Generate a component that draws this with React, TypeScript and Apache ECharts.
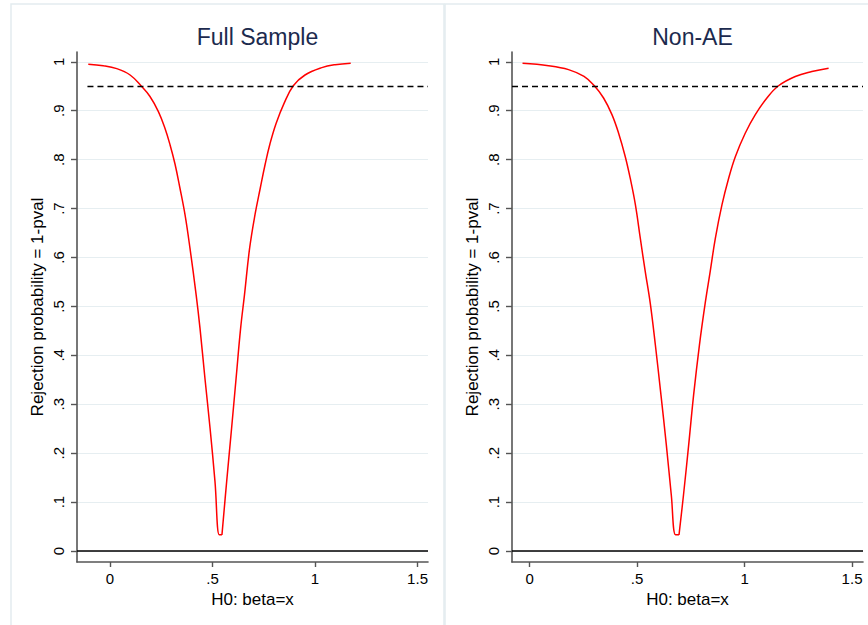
import React, { useEffect, useRef } from 'react';
import * as echarts from 'echarts';

// Full sample: H0 beta value vs rejection probability
const fullX = [
  -0.106, -0.033, 0.033, 0.098, 0.151, 0.195, 0.236, 0.268, 0.293, 0.317,
  0.341, 0.366, 0.390, 0.420, 0.439, 0.463, 0.488, 0.512, 0.533, 0.546,
  0.569, 0.593, 0.615, 0.637, 0.656, 0.681, 0.707, 0.733, 0.757, 0.780,
  0.810, 0.850, 0.894, 0.951, 1.033, 1.098, 1.174,
];
const fullY = [
  0.995, 0.992, 0.986, 0.973, 0.951, 0.929, 0.898, 0.864, 0.830, 0.791,
  0.742, 0.687, 0.619, 0.524, 0.455, 0.353, 0.251, 0.142, 0.033, 0.033,
  0.142, 0.251, 0.353, 0.455, 0.524, 0.619, 0.687, 0.742, 0.791, 0.832,
  0.874, 0.916, 0.951, 0.973, 0.988, 0.994, 0.997,
];

// Non-AE subsample
const nonAeX = [
  -0.033, 0.088, 0.181, 0.253, 0.301, 0.344, 0.383, 0.414, 0.445, 0.468,
  0.492, 0.515, 0.538, 0.561, 0.585, 0.611, 0.636, 0.659, 0.679, 0.695,
  0.716, 0.740, 0.763, 0.790, 0.817, 0.840, 0.864, 0.895, 0.926, 0.957,
  1.003, 1.050, 1.104, 1.158, 1.236, 1.313, 1.391,
];
const nonAeY = [
  0.997, 0.992, 0.984, 0.970, 0.951, 0.926, 0.892, 0.854, 0.806, 0.762,
  0.708, 0.639, 0.571, 0.507, 0.421, 0.319, 0.217, 0.115, 0.033, 0.033,
  0.115, 0.217, 0.319, 0.421, 0.507, 0.571, 0.639, 0.708, 0.762, 0.806,
  0.854, 0.892, 0.926, 0.951, 0.970, 0.980, 0.987,
];

const panelTitles = ['Full Sample', 'Non-AE'];
const xTicks = [0, 0.5, 1, 1.5];
const yTicks = [0, 0.1, 0.2, 0.3, 0.4, 0.5, 0.6, 0.7, 0.8, 0.9, 1];
const cutoff = 0.95;
const xRanges = [[-0.161, 1.551], [-0.082, 1.551]];
const yRange = [-0.0225, 1.02];
const cutoffStart = [-0.11, -0.082];

const FONT = '"Liberation Sans", Arial, sans-serif';
const AXIS_GREY = '#555555';

// stata style: .5 instead of 0.5
const fmt = (v: number) => String(Math.round(v * 10) / 10).replace(/^0\./, '.');

const App = () => {
  const chartRef = useRef<HTMLDivElement>(null);

  useEffect(() => {
    const chart = echarts.init(chartRef.current, null, { renderer: 'svg' });

    const pair = (xs: number[], ys: number[]) => xs.map((x, i) => [x, ys[i]]);
    const grids = [
      { left: 77, top: 52, width: 351, height: 510 },
      { left: 512, top: 52, width: 351, height: 510 },
    ];

    const xAxis = [0, 1].map((i) => ({
      type: 'value',
      gridIndex: i,
      min: xRanges[i][0],
      max: xRanges[i][1],
      name: 'H0: beta=x',
      nameLocation: 'middle',
      nameGap: 27,
      nameTextStyle: { fontSize: 17, color: '#000', fontFamily: FONT },
      axisLine: { show: true, onZero: false, lineStyle: { color: AXIS_GREY, width: 1.6 } },
      axisTick: { show: true, length: 5, customValues: xTicks, lineStyle: { color: AXIS_GREY, width: 1.4 } },
      axisLabel: { customValues: xTicks, formatter: fmt, fontSize: 15, color: '#000', margin: 9, fontFamily: FONT },
      splitLine: { show: false },
    }));

    const yAxis = [0, 1].map((i) => ({
      type: 'value',
      gridIndex: i,
      min: yRange[0],
      max: yRange[1],
      name: 'Rejection probability = 1-pval',
      nameLocation: 'middle',
      nameGap: 31,
      nameRotate: 90,
      nameTextStyle: { fontSize: 17, color: '#000', fontFamily: FONT },
      axisLine: { show: true, onZero: false, lineStyle: { color: AXIS_GREY, width: 1.6 } },
      axisTick: { show: true, length: 6, customValues: yTicks, lineStyle: { color: AXIS_GREY, width: 1.4 } },
      axisLabel: { customValues: yTicks, formatter: fmt, rotate: 90, fontSize: 15, color: '#000', margin: 11, fontFamily: FONT },
      splitLine: { show: true, lineStyle: { color: '#e6eef1', width: 1.2 } },
    }));

    const curves = [pair(fullX, fullY), pair(nonAeX, nonAeY)];
    const curveStyle = { color: '#ff0000', width: 1.5, join: 'round' };
    const series: any[] = [];
    curves.forEach((pts, i) => {
      // split at the bottom so the V stays sharp while the shoulders are smoothed
      const minY = Math.min(...pts.map((p) => p[1]));
      let cut = 0;
      pts.forEach((p, k) => { if (p[1] === minY) cut = k; });
      series.push({
        type: 'line', xAxisIndex: i, yAxisIndex: i,
        data: pts.slice(0, cut + 1), showSymbol: false, smooth: 0.4,
        lineStyle: curveStyle, z: 3,
        markLine: {
          silent: true,
          symbol: 'none',
          label: { show: false },
          data: [
            [
              { coord: [cutoffStart[i], cutoff], lineStyle: { color: '#000', width: 1.3, type: [6, 4] } },
              { coord: [xRanges[i][1], cutoff] },
            ],
            [
              { coord: [xRanges[i][0], 0], lineStyle: { color: '#000', width: 1.5, type: 'solid' } },
              { coord: [xRanges[i][1], 0] },
            ],
          ],
        },
      });
      series.push({
        type: 'line', xAxisIndex: i, yAxisIndex: i,
        data: pts.slice(cut), showSymbol: false, smooth: 0.4,
        lineStyle: curveStyle, z: 3,
      });
    });

    chart.setOption({
      animation: false,
      backgroundColor: '#ffffff',
      textStyle: { fontFamily: FONT },
      title: panelTitles.map((t, i) => ({
        text: t,
        left: grids[i].left + grids[i].width / 2,
        top: 20,
        textAlign: 'center',
        textStyle: { fontSize: 23, fontWeight: 'normal', color: '#1c2a4e', fontFamily: FONT },
      })),
      graphic: [
        { type: 'rect', shape: { x: 11, y: 4, width: 433, height: 640 }, style: { fill: 'none', stroke: '#e3ecef', lineWidth: 1.5 }, silent: true, z: -1 },
        { type: 'rect', shape: { x: 445, y: 4, width: 440, height: 640 }, style: { fill: 'none', stroke: '#e3ecef', lineWidth: 1.5 }, silent: true, z: -1 },
      ],
      grid: grids,
      xAxis,
      yAxis,
      series,
    });

    return () => {
      chart.dispose();
    };
  }, []);

  return (
    <div
      ref={chartRef}
      style={{ position: 'fixed', left: 0, top: 0, width: 868, height: 625, background: '#fff' }}
    />
  );
};

export default App;
